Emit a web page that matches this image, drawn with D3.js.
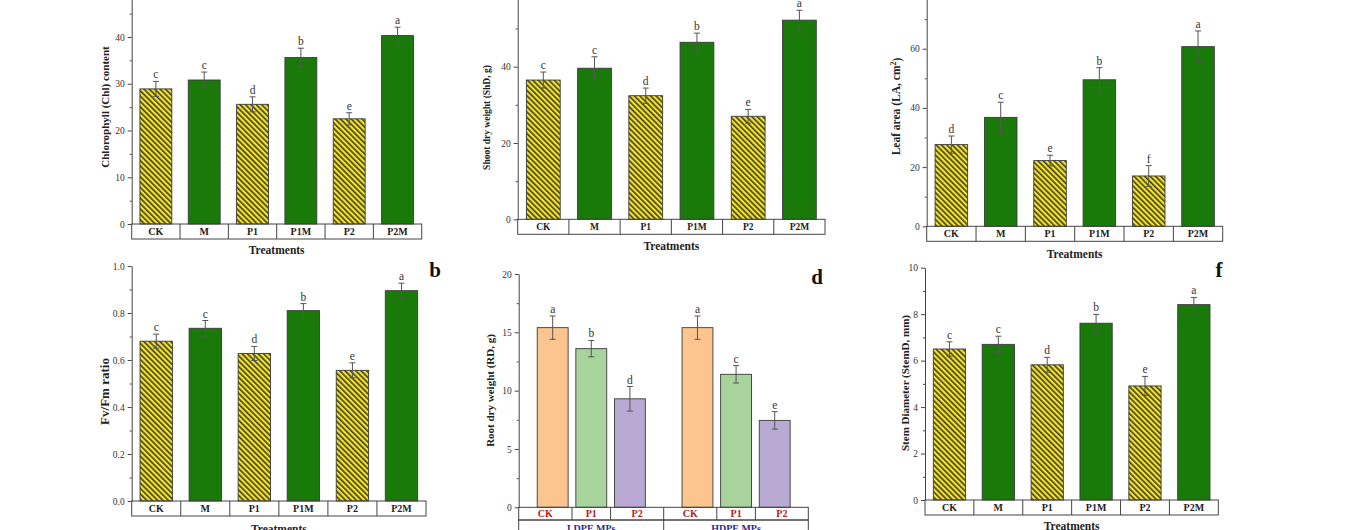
<!DOCTYPE html>
<html><head><meta charset="utf-8">
<script src="https://cdn.jsdelivr.net/npm/d3@7"></script>
<style>body{margin:0;background:#fff}svg{display:block}</style>
</head><body>
<script>
// ---------- DATA ----------
const treatments = ["CK", "M", "P1", "P1M", "P2", "P2M"];
const chlValues = [28.9, 30.8, 25.6, 35.6, 22.5, 40.3];
const chlErrors = [1.6, 1.7, 1.6, 2.0, 1.3, 1.8];
const chlLetters = ["c", "c", "d", "b", "e", "a"];
const shdValues = [36.5, 39.6, 32.4, 46.4, 27.0, 52.2];
const shdErrors = [2.1, 3.0, 2.0, 2.4, 1.8, 2.6];
const shdLetters = ["c", "c", "d", "b", "e", "a"];
const laValues = [27.6, 36.8, 22.2, 49.5, 17.0, 60.7];
const laErrors = [2.9, 5.1, 1.8, 4.1, 3.5, 5.3];
const laLetters = ["d", "c", "e", "b", "f", "a"];
const fvfmValues = [0.68, 0.735, 0.628, 0.81, 0.556, 0.895];
const fvfmErrors = [0.03, 0.033, 0.03, 0.03, 0.032, 0.032];
const fvfmLetters = ["c", "c", "d", "b", "e", "a"];
const rdCategories = ["CK", "P1", "P2", "CK", "P1", "P2"];
const rdGroups = ["LDPE MPs", "HDPE MPs"];
const rdValues = [15.4, 13.6, 9.3, 15.4, 11.4, 7.45];
const rdErrors = [1.0, 0.7, 1.05, 1.0, 0.75, 0.75];
const rdLetters = ["a", "b", "d", "a", "c", "e"];
const sdValues = [6.5, 6.7, 5.82, 7.61, 4.91, 8.41];
const sdErrors = [0.31, 0.35, 0.32, 0.38, 0.41, 0.31];
const sdLetters = ["c", "c", "d", "b", "e", "a"];

// ---------- SETUP ----------
const W = 1360, H = 530;
const svg = d3.select("body").append("svg").attr("width", W).attr("height", H);
const FONT = "'Liberation Serif','Times New Roman',serif";
const GREEN = "#197a0a";
const rdFills = ["#fcc590", "#a9d39d", "#b9aad3"];

const defs = svg.append("defs");
const pat = defs.append("pattern").attr("id", "hatch")
  .attr("patternUnits", "userSpaceOnUse").attr("width", 3.8).attr("height", 3.8)
  .attr("patternTransform", "rotate(-45)");
pat.append("rect").attr("width", 3.8).attr("height", 3.8).attr("fill", "#f3e330");
pat.append("line").attr("x1", 0.8).attr("y1", 0).attr("x2", 0.8).attr("y2", 3.8)
  .attr("stroke", "#1a1a10").attr("stroke-width", 1.3);

function treatFill(name) { return name.includes("M") ? GREEN : "url(#hatch)"; }

function drawPanel(cfg) {
  const g = svg.append("g");
  const n = cfg.cats.length;
  const y = d3.scaleLinear().domain([0, cfg.yMax]).range([cfg.y0, cfg.yTop]);
  let xc, bw, edges;
  if (cfg.positions) {
    const x = d3.scaleLinear().domain(cfg.xDomain).range([cfg.x0, cfg.x1]);
    xc = i => x(cfg.positions[i]);
    bw = cfg.barFrac * (x(1) - x(0));
    edges = [cfg.x0];
    for (let i = 0; i < n - 1; i++) edges.push((xc(i) + xc(i + 1)) / 2);
    edges.push(cfg.x1);
  } else {
    const p = cfg.pad;
    const x = d3.scaleBand().domain(d3.range(n)).range([cfg.x0, cfg.x1])
      .paddingInner(p).paddingOuter(p / 2);
    xc = i => x(i) + x.bandwidth() / 2;
    bw = x.bandwidth();
    edges = d3.range(n + 1).map(i => cfg.x0 + i * x.step());
  }

  // bars
  g.selectAll("rect.bar").data(cfg.values).join("rect")
    .attr("x", (d, i) => xc(i) - bw / 2).attr("width", bw)
    .attr("y", d => y(d)).attr("height", d => y(0) - y(d))
    .attr("fill", (d, i) => cfg.fill(i))
    .attr("stroke", "#3a3a3a").attr("stroke-width", 0.9);

  // error bars
  const eb = g.append("g").attr("stroke", "#555").attr("stroke-width", 1).attr("fill", "none");
  cfg.values.forEach((v, i) => {
    const e = cfg.errors[i], cx = xc(i);
    eb.append("line").attr("x1", cx).attr("x2", cx).attr("y1", y(v - e)).attr("y2", y(v + e));
    eb.append("line").attr("x1", cx - 3).attr("x2", cx + 3).attr("y1", y(v + e)).attr("y2", y(v + e));
    eb.append("line").attr("x1", cx - 3).attr("x2", cx + 3).attr("y1", y(v - e)).attr("y2", y(v - e));
    g.append("text").attr("x", cx).attr("y", y(v + e) - 3)
      .attr("text-anchor", "middle").attr("font-family", FONT).attr("font-size", cfg.letterSize)
      .attr("fill", "#333").text(cfg.letters[i]);
  });

  // y axis
  const majors = d3.range(0, cfg.yMax + 1e-9, cfg.major).filter(v => y(v) >= 4);
  const ya = g.append("g").attr("transform", `translate(${cfg.x0},0)`)
    .call(d3.axisLeft(y).tickValues(majors)
      .tickSize(4).tickSizeOuter(0).tickPadding(3).tickFormat(d3.format(cfg.fmt)));
  ya.selectAll("text").attr("font-family", FONT).attr("font-size", cfg.tickSize).attr("fill", "#333");
  ya.selectAll("line,path").attr("stroke", "#444");
  const ym = g.append("g").attr("transform", `translate(${cfg.x0},0)`)
    .call(d3.axisLeft(y).tickValues(d3.range(cfg.major / 2, cfg.yMax, cfg.major))
      .tickSize(2).tickSizeOuter(0).tickFormat(""));
  ym.select("path").remove();
  ym.selectAll("line").attr("stroke", "#444");

  // label box
  const rowH = cfg.rowH;
  g.append("rect").attr("x", cfg.x0).attr("y", cfg.y0).attr("width", cfg.x1 - cfg.x0)
    .attr("height", rowH).attr("fill", "none").attr("stroke", "#444").attr("stroke-width", 1);
  edges.slice(1, -1).forEach(ex => {
    g.append("line").attr("x1", ex).attr("x2", ex).attr("y1", cfg.y0).attr("y2", cfg.y0 + rowH)
      .attr("stroke", "#444");
  });
  cfg.cats.forEach((c, i) => {
    g.append("text").attr("x", (edges[i] + edges[i + 1]) / 2).attr("y", cfg.y0 + rowH / 2)
      .attr("dy", "0.35em").attr("text-anchor", "middle").attr("font-family", FONT)
      .attr("font-weight", "bold").attr("font-size", cfg.catSize).attr("fill", cfg.catColor || "#222")
      .text(c);
  });
  if (cfg.groups) {
    const gy = cfg.y0 + rowH;
    const mid = edges[3];
    g.append("rect").attr("x", cfg.x0).attr("y", gy).attr("width", cfg.x1 - cfg.x0)
      .attr("height", rowH + 4).attr("fill", "none").attr("stroke", "#444");
    g.append("line").attr("x1", mid).attr("x2", mid).attr("y1", gy).attr("y2", gy + rowH + 4).attr("stroke", "#444");
    [[cfg.x0, mid], [mid, cfg.x1]].forEach((r, k) => {
      g.append("text").attr("x", (r[0] + r[1]) / 2).attr("y", gy + 12)
        .attr("text-anchor", "middle").attr("font-family", FONT).attr("font-weight", "bold")
        .attr("font-size", cfg.catSize).attr("fill", "#2a2f8a").text(cfg.groups[k]);
    });
  } else {
    g.append("text").attr("x", (cfg.x0 + cfg.x1) / 2).attr("y", cfg.treatY)
      .attr("text-anchor", "middle").attr("font-family", FONT).attr("font-weight", "bold")
      .attr("font-size", cfg.treatSize).attr("fill", "#222").text("Treatments");
  }

  // y title
  const t = g.append("text").attr("transform", `translate(${cfg.titleX},${cfg.titleY}) rotate(-90)`)
    .attr("text-anchor", "middle").attr("font-family", FONT).attr("font-weight", "bold")
    .attr("font-size", cfg.titleSize).attr("fill", "#222");
  if (cfg.titleParts) {
    t.append("tspan").text(cfg.titleParts[0]);
    t.append("tspan").attr("dy", "-0.4em").attr("font-size", "70%").text(cfg.titleParts[1]);
    t.append("tspan").attr("dy", "0.4em").text(cfg.titleParts[2]);
  } else t.text(cfg.title);

  if (cfg.panelLetter) {
    g.append("text").attr("x", cfg.plX).attr("y", cfg.plY).attr("text-anchor", "middle")
      .attr("font-family", FONT).attr("font-weight", "bold").attr("font-size", 21)
      .attr("fill", "#111").text(cfg.panelLetter);
  }
}

const common = { pad: 0.34, letterSize: 11.5, tickSize: 9.5, catSize: 10, titleSize: 11, treatSize: 11.5, rowH: 15 };

drawPanel(Object.assign({}, common, {
  cats: treatments, values: chlValues, errors: chlErrors, letters: chlLetters,
  fill: i => treatFill(treatments[i]),
  x0: 131.7, x1: 421.7, y0: 224, yTop: -9.75, yMax: 50, major: 10, fmt: "d",
  titleX: 108.5, titleY: 107, title: "Chlorophyll (Chl) content", treatY: 254
}));
drawPanel(Object.assign({}, common, {
  cats: treatments, values: shdValues, errors: shdErrors, letters: shdLetters,
  fill: i => treatFill(treatments[i]), titleSize: 9.5, catSize: 9.5,
  x0: 517.7, x1: 825, y0: 219.3, yTop: -9.6, yMax: 60, major: 20, fmt: "d",
  titleX: 490, titleY: 117.5, title: "Shoot dry weight (ShD, g)", treatY: 250
}));
drawPanel(Object.assign({}, common, {
  cats: treatments, values: laValues, errors: laErrors, letters: laLetters,
  fill: i => treatFill(treatments[i]), titleSize: 11.5,
  x0: 926.7, x1: 1222.7, y0: 226.3, yTop: -10.5, yMax: 80, major: 20, fmt: "d",
  titleX: 899.5, titleY: 106.5, titleParts: ["Leaf area (LA, cm", "2", ")"], treatY: 258
}));
drawPanel(Object.assign({}, common, {
  cats: treatments, values: fvfmValues, errors: fvfmErrors, letters: fvfmLetters,
  fill: i => treatFill(treatments[i]), titleSize: 13,
  x0: 131.7, x1: 426, y0: 501, yTop: 266, yMax: 1.0, major: 0.2, fmt: ".1f",
  titleX: 109, titleY: 391.5, title: "Fv/Fm ratio", treatY: 533,
  panelLetter: "b", plX: 435, plY: 277
}));
drawPanel(Object.assign({}, common, {
  cats: rdCategories, values: rdValues, errors: rdErrors, letters: rdLetters,
  fill: i => rdFills[i % 3], catColor: "#b0201c", groups: rdGroups,
  positions: [1, 2, 3, 4.75, 5.75, 6.75], xDomain: [0.12, 7.62], barFrac: 0.8,
  x0: 518.7, x1: 808.3, y0: 507.3, yTop: 274, yMax: 20, major: 5, fmt: "d", rowH: 12.7,
  titleX: 494, titleY: 390.5, title: "Root dry weight (RD, g)",
  panelLetter: "d", plX: 817, plY: 284
}));
drawPanel(Object.assign({}, common, {
  cats: treatments, values: sdValues, errors: sdErrors, letters: sdLetters,
  fill: i => treatFill(treatments[i]),
  x0: 925, x1: 1218.3, y0: 500, yTop: 267.7, yMax: 10, major: 2, fmt: "d",
  titleX: 909, titleY: 383, title: "Stem Diameter (StemD, mm)", treatY: 530,
  panelLetter: "f", plX: 1219, plY: 277
}));
</script>
</body></html>
